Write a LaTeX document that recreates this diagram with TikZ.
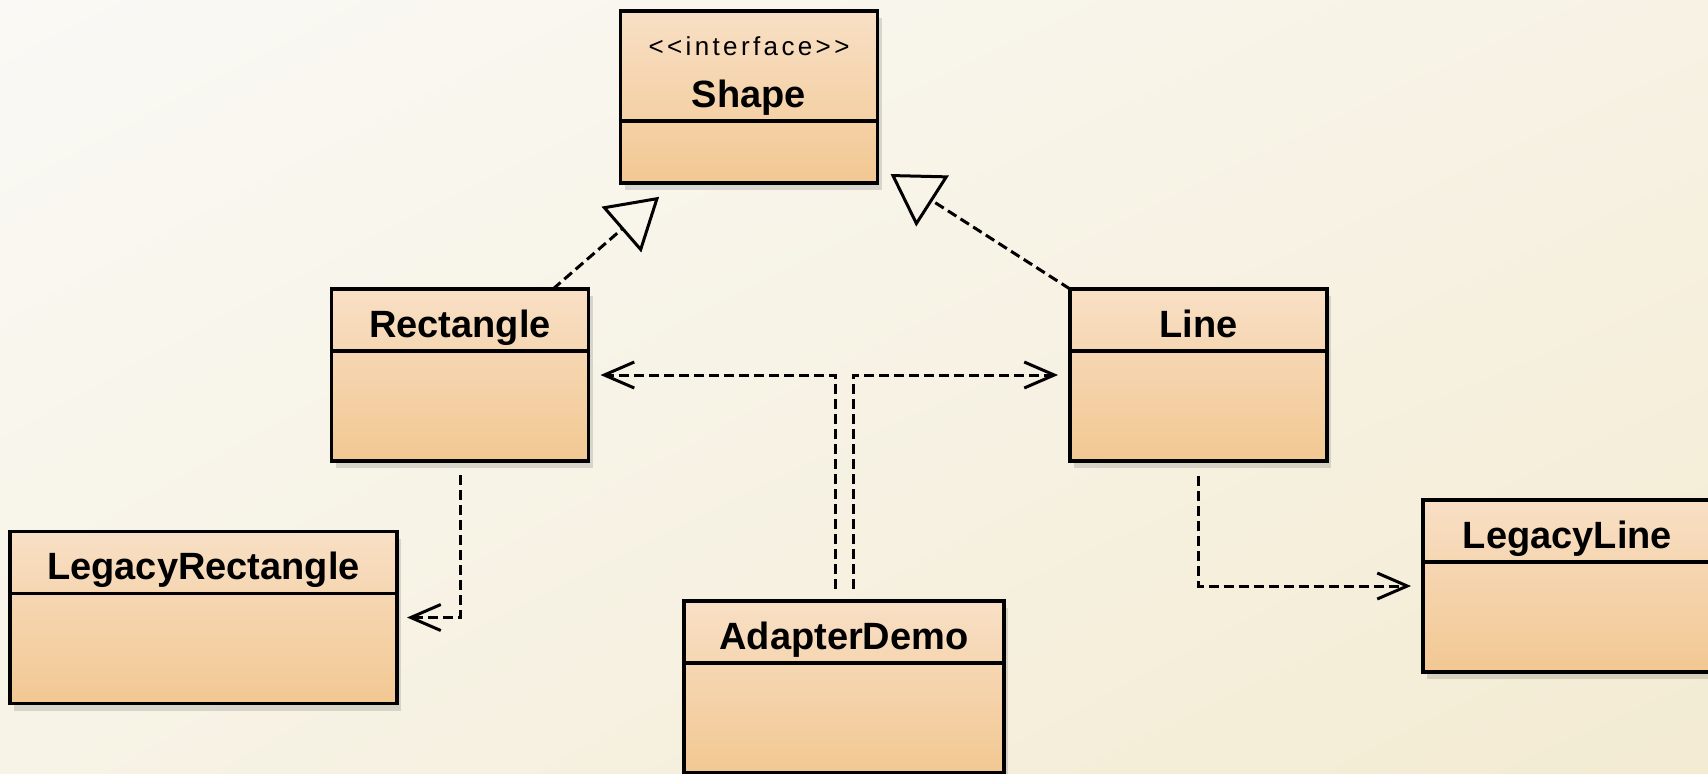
\documentclass[tikz,border=0pt]{standalone}
\usepackage{fontspec}
\setmainfont{Liberation Sans}
\newfontfamily\stereofont[LetterSpace=13, Ligatures=TeXOff]{Liberation Sans}
\usetikzlibrary{arrows.meta,shadows,shadings}

\definecolor{boxtop}{HTML}{F8DFC5}
\definecolor{boxbottom}{HTML}{F2C892}
\definecolor{bgul}{HTML}{FAF9F5}
\definecolor{bgur}{HTML}{F7F2E4}
\definecolor{bgll}{HTML}{F7F3E6}
\definecolor{bglr}{HTML}{F3EBD2}

\begin{document}
\begin{tikzpicture}[x=0.5pt, y=-0.5pt,
        umlclass/.style={draw, line width=1.7pt, outer sep=0pt, inner sep=0pt, top color=boxtop, bottom color=boxbottom,
            minimum width=128.5pt, minimum height=86pt,
            drop shadow={shadow xshift=2pt, shadow yshift=-3.5pt, opacity=0.22, fill=black!60}},
        classname/.style={anchor=base, inner sep=0pt, font=\bfseries\fontsize{19pt}{19pt}\selectfont},
        divider/.style={line width=1.7pt},
        dep/.style={line width=1.5pt, dash pattern=on 5pt off 2.5pt, -{Straight Barb[length=15pt, width=13pt]}},
        impl/.style={line width=1.5pt, dash pattern=on 5pt off 2.5pt, -{Triangle[open, length=25pt, width=30pt]}}]
        \shade[upper left=bgul, upper right=bgur, lower left=bgll, lower right=bglr] (0,0) rectangle (1708,773);
        \useasboundingbox (0,0) rectangle (1708,773);

        % classes
        \node[umlclass] (shape) at (749,97) {};
        \node[umlclass] (rect) at (460,375) {};
        \node[umlclass] (line) at (1198.5,375) {};
        \node[umlclass, minimum width=193.5pt] (legrect) at (203.5,617.5) {};
        \node[umlclass, minimum width=144.5pt] (legline) at (1567.5,586) {};
        \node[umlclass, minimum width=160pt] (demo) at (844,687) {};

        \node[anchor=base, inner sep=0pt, font=\stereofont\fontsize{13pt}{13pt}\selectfont] (shape-stereo) at ([yshift=-22pt]shape.north) {<<interface>>};
        \node[classname] (shape-name) at ([yshift=-48pt]shape.north) {Shape};
        \draw[divider] ([yshift=-55pt]shape.north west) -- ([yshift=-55pt]shape.north east);
        \foreach \c/\t in {rect/Rectangle, line/Line, legrect/LegacyRectangle, legline/LegacyLine, demo/AdapterDemo} {
            \node[classname] (\c-name) at ([yshift=-24pt]\c.north) {\t};
            \draw[divider] ([yshift=-31pt]\c.north west) -- ([yshift=-31pt]\c.north east);
        }

        % realizations
        \coordinate (shape-corner) at ([shift={(6.5pt,4.5pt)}]shape.south east);
        \draw[impl, shorten >=10.5pt] ([xshift=46.5pt]rect.north) -- ([xshift=-37pt]shape.south);
        \draw[impl] (line.north west) -- (shape-corner);

        % dependencies
        \draw[dep, shorten <=7pt] (rect.south) |- ([xshift=5pt]legrect.east);
        \draw[dep, shorten <=7.5pt] (line.south) |- ([xshift=-6pt]legline.west);
        \draw[dep, shorten <=6pt, shorten >=6pt] ([xshift=-4.5pt]demo.north) |- (rect.east);
        \draw[dep, shorten <=6pt, shorten >=6pt] ([xshift=4.5pt]demo.north) |- (line.west);
    \end{tikzpicture}
\end{document}
